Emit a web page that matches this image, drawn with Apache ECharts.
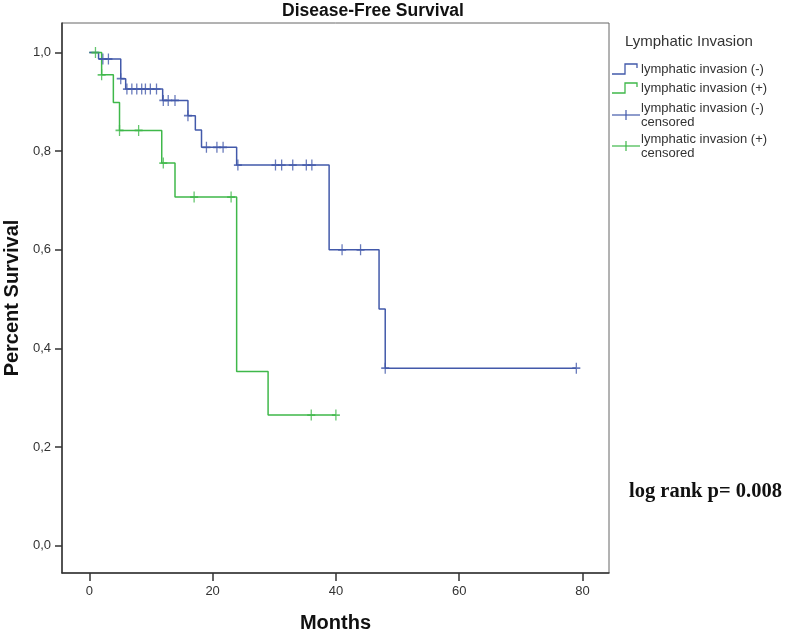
<!DOCTYPE html>
<html>
<head>
<meta charset="utf-8">
<script src="https://cdn.jsdelivr.net/npm/echarts@6/dist/echarts.min.js"></script>
<style>html,body{margin:0;padding:0;background:#fff}#c{width:787px;height:632px}</style>
</head>
<body>
<div id="c"></div>
<script>
// ---- data ----
const xTicks = [0, 20, 40, 60, 80];
const yTicks = [0, 0.2, 0.4, 0.6, 0.8, 1.0];

// lymphatic invasion (-) : step points (time in months, survival after event)
const negTimes = [0, 1.5, 5.1, 5.9, 11.9, 16, 17.2, 18.2, 23.9, 38.9, 47, 48, 79];
const negSurv  = [1.0, 0.987, 0.947, 0.926, 0.903, 0.872, 0.843, 0.808, 0.772, 0.600, 0.480, 0.360, 0.360];
const negCensTimes = [2.2, 3.1, 5.1, 6.1, 6.9, 7.7, 8.5, 9.1, 9.9, 10.9, 12, 12.8, 13.9, 16, 19, 20.7, 21.7, 24.1, 30.2, 31.2, 33, 35.2, 36.1, 41, 44, 48, 79];
const negCensSurv  = [0.987, 0.987, 0.947, 0.926, 0.926, 0.926, 0.926, 0.926, 0.926, 0.926, 0.903, 0.903, 0.903, 0.872, 0.808, 0.808, 0.808, 0.772, 0.772, 0.772, 0.772, 0.772, 0.772, 0.600, 0.600, 0.360, 0.360];

// lymphatic invasion (+)
const posTimes = [0, 2, 3.9, 4.9, 11.75, 13.9, 23.9, 29, 40];
const posSurv  = [1.0, 0.955, 0.899, 0.842, 0.776, 0.707, 0.353, 0.265, 0.265];
const posCensTimes = [1, 2, 4.9, 8, 12, 17, 23, 36, 40];
const posCensSurv  = [1.0, 0.955, 0.842, 0.842, 0.776, 0.707, 0.707, 0.265, 0.265];

const seriesNames = ['lymphatic invasion (-)', 'lymphatic invasion (+)'];
const legendTitle = 'Lymphatic Invasion';
const chartTitle = 'Disease-Free Survival';
const xName = 'Months';
const yName = 'Percent Survival';
const note = 'log rank p= 0.008';

const BLUE = '#4259aa';
const GREEN = '#3fb84a';
const zip = (a, b) => a.map((v, i) => [v, b[i]]);
const PLUS = 'path://M5,0 L5,10 M0,5 L10,5';

const chart = echarts.init(document.getElementById('c'), null, {renderer: 'canvas'});

const legendX = 612, legendTextX = 641;
chart.setOption({
  animation: false,
  backgroundColor: '#fff',
  grid: {left: 62, right: 178, top: 23, bottom: 59, show: true, borderColor: '#666', borderWidth: 1,
         containLabel: false, outerBoundsMode: 'none'},
  xAxis: {
    type: 'value', min: -4.43, max: 84.3,
    name: xName, nameLocation: 'middle', nameGap: 40,
    nameTextStyle: {fontFamily: 'Liberation Sans', fontWeight: 'bold', fontSize: 20, color: '#111'},
    axisLine: {show: true, onZero: false, lineStyle: {color: '#333', width: 1.5}},
    axisTick: {show: true, inside: false, length: 8, customValues: xTicks, lineStyle: {color: '#333', width: 1.5}},
    axisLabel: {customValues: xTicks, margin: 12, fontFamily: 'Liberation Sans', fontSize: 13, color: '#333'},
    splitLine: {show: false}
  },
  yAxis: {
    type: 'value', min: -0.0554, max: 1.06,
    name: yName, nameLocation: 'middle', nameGap: 38,
    nameTextStyle: {fontFamily: 'Liberation Sans', fontWeight: 'bold', fontSize: 20, color: '#111'},
    axisLine: {show: true, onZero: false, lineStyle: {color: '#333', width: 1.5}},
    axisTick: {show: true, inside: false, length: 7, customValues: yTicks, lineStyle: {color: '#333', width: 1.5}},
    axisLabel: {customValues: yTicks, margin: 11, fontFamily: 'Liberation Sans', fontSize: 13, color: '#333',
      formatter: v => v.toFixed(1).replace('.', ',')},
    splitLine: {show: false}
  },
  series: [
    {name: seriesNames[1], type: 'line', step: 'end', data: zip(posTimes, posSurv), showSymbol: false,
     lineStyle: {color: GREEN, width: 1.5}, z: 2},
    {name: seriesNames[0], type: 'line', step: 'end', data: zip(negTimes, negSurv), showSymbol: false,
     lineStyle: {color: BLUE, width: 1.5}, z: 3},
    {name: seriesNames[1] + ' censored', type: 'scatter', data: zip(posCensTimes, posCensSurv),
     symbol: PLUS, symbolSize: [8, 11], itemStyle: {color: 'none', borderColor: GREEN, borderWidth: 1.5}, z: 4},
    {name: seriesNames[0] + ' censored', type: 'scatter', data: zip(negCensTimes, negCensSurv),
     symbol: PLUS, symbolSize: [8, 11], itemStyle: {color: 'none', borderColor: BLUE, borderWidth: 1.5}, z: 5}
  ],
  graphic: [
    {type: 'text', style: {text: chartTitle, x: 373, y: 11, align: 'center', verticalAlign: 'middle',
      font: 'bold 17.5px "Liberation Sans"', fill: '#111'}},
    {type: 'text', style: {text: legendTitle, x: 625, y: 42, verticalAlign: 'middle', font: '15px "Liberation Sans"', fill: '#333'}},
    // item 1
    {type: 'polyline', shape: {points: [[legendX, 74], [625, 74], [625, 64], [637, 64], [637, 68]]}, style: {stroke: BLUE, lineWidth: 1.3, fill: null}},
    {type: 'text', style: {text: seriesNames[0], x: legendTextX, y: 69, verticalAlign: 'middle', font: '13px "Liberation Sans"', fill: '#333'}},
    // item 2
    {type: 'polyline', shape: {points: [[legendX, 93], [625, 93], [625, 83], [637, 83], [637, 87]]}, style: {stroke: GREEN, lineWidth: 1.3, fill: null}},
    {type: 'text', style: {text: seriesNames[1], x: legendTextX, y: 88, verticalAlign: 'middle', font: '13px "Liberation Sans"', fill: '#333'}},
    // item 3
    {type: 'line', shape: {x1: legendX, y1: 115, x2: 640, y2: 115}, style: {stroke: BLUE, lineWidth: 1.2}},
    {type: 'line', shape: {x1: 626, y1: 110, x2: 626, y2: 120}, style: {stroke: BLUE, lineWidth: 1.2}},
    {type: 'text', style: {text: seriesNames[0] + '\ncensored', x: legendTextX, y: 115, verticalAlign: 'middle', lineHeight: 14, font: '13px "Liberation Sans"', fill: '#333'}},
    // item 4
    {type: 'line', shape: {x1: legendX, y1: 146, x2: 640, y2: 146}, style: {stroke: GREEN, lineWidth: 1.2}},
    {type: 'line', shape: {x1: 626, y1: 141, x2: 626, y2: 151}, style: {stroke: GREEN, lineWidth: 1.2}},
    {type: 'text', style: {text: seriesNames[1] + '\ncensored', x: legendTextX, y: 146, verticalAlign: 'middle', lineHeight: 14, font: '13px "Liberation Sans"', fill: '#333'}},
    // note
    {type: 'text', style: {text: note, x: 629, y: 492, verticalAlign: 'middle', font: 'bold 20.5px "Liberation Serif"', fill: '#111'}}
  ]
});
</script>
</body>
</html>
